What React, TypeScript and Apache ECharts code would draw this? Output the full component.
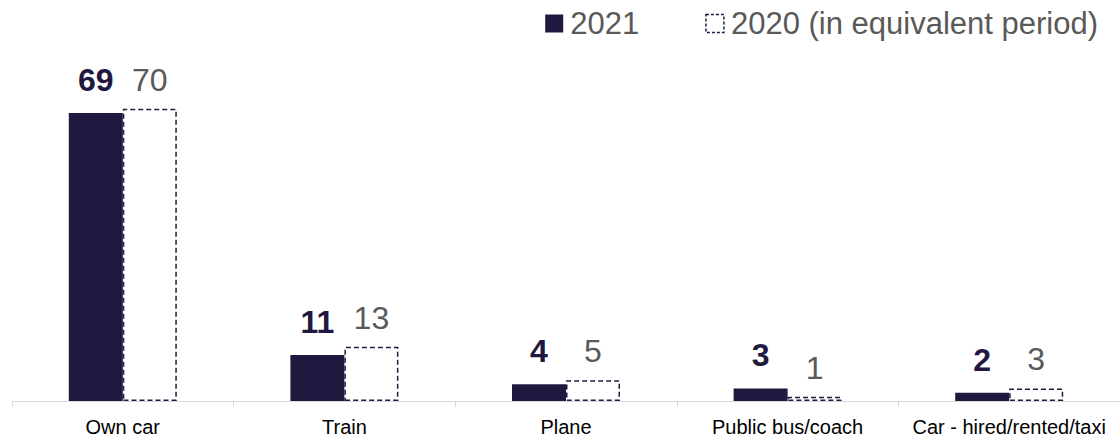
import React, { useEffect, useRef } from "react";
import * as echarts from "echarts";

const categories = ["Own car", "Train", "Plane", "Public bus/coach", "Car - hired/rented/taxi"];
const values2021 = [69, 11, 4, 3, 2];
const values2020 = [70, 13, 5, 1, 3];
const seriesNames = ["2021", "2020 (in equivalent period)"];

const NAVY = "#21183f";
const GRAY = "#595959";
const FONT = "'Liberation Sans', Arial, sans-serif";

export default function App() {
  const ref = useRef<HTMLDivElement>(null);
  useEffect(() => {
    if (!ref.current) return;
    const chart = echarts.init(ref.current, null, { renderer: "svg" });
    chart.setOption({
      animation: false,
      textStyle: { fontFamily: FONT },
      legend: {
        right: 22,
        top: 8,
        padding: 0,
        itemWidth: 18,
        itemHeight: 18,
        itemGap: 66,
        textStyle: { fontSize: 31, color: GRAY, fontFamily: FONT, padding: [0, 0, 0, 2] },
        data: [
          { name: seriesNames[0], icon: "rect", itemStyle: { color: NAVY, borderWidth: 0 } },
          {
            name: seriesNames[1],
            icon: "rect",
            itemStyle: { color: "#ffffff", borderColor: NAVY, borderWidth: 1.5, borderType: [3, 2] },
          },
        ],
      },
      grid: { left: 12, right: -9.5, top: 67, bottom: 36 },
      xAxis: {
        type: "category",
        data: categories,
        axisLine: { lineStyle: { color: "#d9d9d9", width: 1 } },
        axisTick: { show: true, interval: 0, length: 6, lineStyle: { color: "#d9d9d9" } },
        axisLabel: {
          color: "#000",
          fontSize: 20,
          margin: 16,
          interval: 0,
          hideOverlap: false,
          fontFamily: FONT,
        },
      },
      yAxis: { type: "value", min: 0, max: 80, show: false, splitLine: { show: false } },
      series: [
        {
          name: seriesNames[0],
          type: "bar",
          data: values2021,
          barWidth: 54,
          barGap: "0%",
          itemStyle: { color: NAVY },
          label: {
            show: true,
            position: "top",
            distance: 17,
            fontSize: 32,
            fontWeight: "bold",
            color: NAVY,
            fontFamily: FONT,
          },
        },
        {
          name: seriesNames[1],
          type: "bar",
          data: values2020,
          barWidth: 54,
          barGap: "0%",
          itemStyle: { color: "#ffffff", borderColor: NAVY, borderWidth: 1.5, borderType: [5, 3] },
          label: {
            show: true,
            position: "top",
            distance: 13,
            fontSize: 32,
            color: GRAY,
            fontFamily: FONT,
          },
        },
      ],
    });
    return () => chart.dispose();
  }, []);
  return (
    <div
      ref={ref}
      style={{ position: "absolute", left: 0, top: 0, width: 1120, height: 437 }}
    />
  );
}
